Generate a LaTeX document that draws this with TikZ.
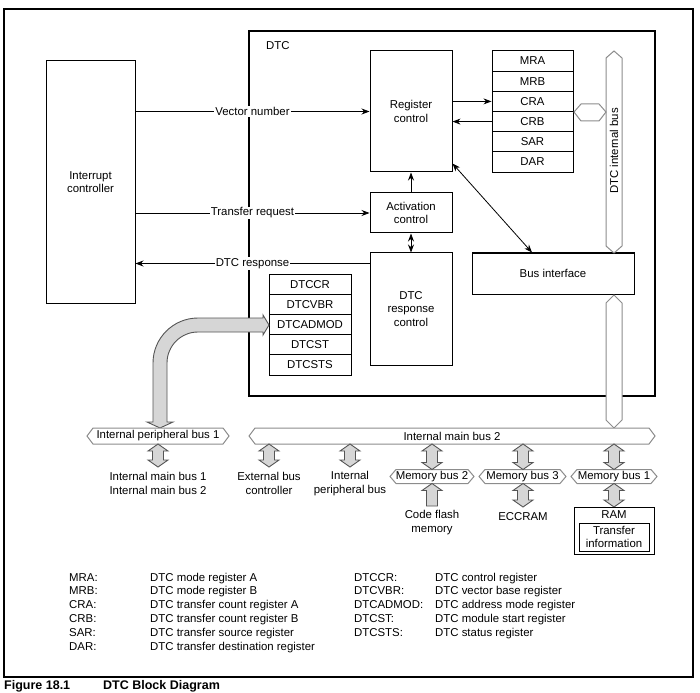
\documentclass[tikz,border=0pt]{standalone}
\usepackage{fontspec}
\setmainfont{Liberation Sans}
\usetikzlibrary{arrows.meta,calc}
\newcommand\fs{\fontsize{11.4}{13.3}\selectfont}
\definecolor{busgray}{HTML}{8C8C8C}
\definecolor{fatfill}{HTML}{D6D6D6}
\definecolor{fatedge}{HTML}{555555}
\tikzset{
  txt/.style={font=\fs, align=center, inner sep=0pt},
  box/.style={draw, line width=1pt, fill=white, font=\fs, align=center, inner sep=0pt},
  reg/.style={box, minimum width=81pt, minimum height=20.17pt},
  reg2/.style={box, minimum width=82pt, minimum height=20.2pt},
  arr/.style={line width=0.8pt, -{Stealth[length=8pt,width=6pt]}},
  dbl/.style={line width=0.8pt, {Stealth[length=8pt,width=6pt]}-{Stealth[length=8pt,width=6pt]}},
  bus/.style={draw=busgray, line width=1pt, fill=white, line join=miter},
  fat/.style={draw=fatedge, fill=fatfill, line width=0.9pt, line join=miter},
  lbl/.style={font=\fs, fill=white, inner sep=1pt},
  leg/.style={font=\fs, anchor=base west, inner sep=0pt},
}
% vertical double fat arrow: x, ytop, ybottom
\newcommand\vdbl[3]{%
  \draw[fat] (#1,#2) -- (#1+10,#2+7) -- (#1+5.5,#2+7) -- (#1+5.5,#3-7) -- (#1+10,#3-7)
    -- (#1,#3) -- (#1-10,#3-7) -- (#1-5.5,#3-7) -- (#1-5.5,#2+7) -- (#1-10,#2+7) -- cycle;}
% horizontal bus hexagon: x1, x2, yc, half height
\newcommand\hbus[4]{%
  \draw[bus] (#1,#3) -- (#1+6,#3-#4) -- (#2-6,#3-#4) -- (#2,#3) -- (#2-6,#3+#4) -- (#1+6,#3+#4) -- cycle;}
\begin{document}
\begin{tikzpicture}[x=1pt,y=-1pt]
\useasboundingbox (0,0) rectangle (700,692);
% outer frame
\draw[line width=1.2pt] (4,9) rectangle (693,677);
% DTC frame
\node[draw, line width=2.2pt, minimum width=406pt, minimum height=365pt, inner sep=0pt] (dtc) at (452,213.5) {};
\node[txt, anchor=west] (dtclbl) at (266,46) {DTC};

% interrupt controller
\node[box, minimum width=89pt, minimum height=242pt] (intc) at (90.5,182) {Interrupt\\controller};

% DTC blocks
\node[box, minimum width=82pt, minimum height=121pt] (regctl) at (411,111.5) {Register\\control};
\node[box, minimum width=82pt, minimum height=40pt] (actctl) at (411,213) {Activation\\control};
\node[box, minimum width=82pt, minimum height=112pt] (respctl) at (411,309) {DTC\\response\\control};
\node[box, minimum width=162pt, minimum height=41pt] (busif) at (553,273.5) {Bus interface};

% register stack
\node[reg] (mra) at (532.5,61.08) {MRA};
\node[reg] (mrb) at (532.5,81.25) {MRB};
\node[reg] (cra) at (532.5,101.42) {CRA};
\node[reg] (crb) at (532.5,121.58) {CRB};
\node[reg] (sar) at (532.5,141.75) {SAR};
\node[reg] (dar) at (532.5,161.92) {DAR};

% DTC control registers
\node[reg2] (dtccr) at (310,284.1) {DTCCR};
\node[reg2] (dtcvbr) at (310,304.3) {DTCVBR};
\node[reg2] (dtcadmod) at (310,324.5) {DTCADMOD};
\node[reg2] (dtcst) at (310,344.7) {DTCST};
\node[reg2] (dtcsts) at (310,364.9) {DTCSTS};

% DTC internal bus (upper)
\draw[bus] (606,58) -- (614,51) -- (622,58) -- (622,246) -- (614,253) -- (606,246) -- cycle;
\node[txt, rotate=90] (ibus) at (614,151) {DTC internal bus};
% small hex between registers and bus
\draw[bus] (574,112) -- (581,104) -- (599,104) -- (606,112) -- (599,121) -- (581,121) -- cycle;
% DTC internal bus (lower)
\draw[bus] (606,303) -- (614,295) -- (622,303) -- (622,420) -- (614,428) -- (606,420) -- cycle;

% connectors
\draw[arr] (intc.east |- regctl.west) -- node[lbl] {Vector number} (regctl.west);
\draw[arr] (intc.east |- actctl.west) -- node[lbl] {Transfer request} (actctl.west);
\coordinate (rs) at ($(respctl.north west)+(0,11)$);
\draw[arr] (rs) -- node[lbl] {DTC response} (intc.east |- rs);
\draw[arr] (regctl.east |- cra.west) -- (cra.west);
\draw[arr] (crb.west) -- (regctl.east |- crb.west);
\draw[arr] (actctl.north) -- (regctl.south);
\draw[dbl] (actctl.south) -- (respctl.north);
\draw[dbl] ([yshift=9pt]regctl.south east) -- ([xshift=-21pt]busif.north);

% curved fat arrow from internal peripheral bus 1 to DTCADMOD
\draw[fat] (269,325) -- (263,315) -- (263,318) -- (198,318)
  arc[start angle=270, end angle=180, radius=45] -- (153,422) -- (147,422) -- (160,428)
  -- (173,422) -- (167,422) -- (167,363) arc[start angle=180, end angle=270, radius=31]
  -- (263,332) -- (263,335) -- cycle;

% buses
\hbus{87}{229}{436}{8}
\node[txt] (ipb1) at (158,436) {Internal peripheral bus 1};
\hbus{249}{655}{436}{8}
\node[txt] (imb2) at (452,436) {Internal main bus 2};
\hbus{390}{474}{476.5}{7}
\node[txt] (mb2) at (432,476.5) {Memory bus 2};
\hbus{479}{566}{476.5}{7}
\node[txt] (mb3) at (522.5,476.5) {Memory bus 3};
\hbus{571}{657}{476.5}{7}
\node[txt] (mb1) at (614,476.5) {Memory bus 1};

% fat double arrows
\vdbl{158}{444}{467}
\vdbl{269}{444}{467}
\vdbl{350}{444}{467}
\vdbl{432}{444}{469.5}
\vdbl{523}{444}{469.5}
\vdbl{614}{444}{469.5}
\vdbl{523}{483.5}{507}
\vdbl{614}{483.5}{507}
% single up arrow (code flash)
\draw[fat] (432,483.5) -- (442,490.5) -- (437.5,490.5) -- (437.5,506) -- (426.5,506) -- (426.5,490.5) -- (422,490.5) -- cycle;

% bottom texts
\node[txt] (imb12) at (158,483.5) {Internal main bus 1\\Internal main bus 2};
\node[txt] (ebc) at (269,483.5) {External bus\\controller};
\node[txt] (ipb) at (350,483.5) {Internal\\peripheral bus};
\node[txt] (cfm) at (432,522.5) {Code flash\\memory};
\node[txt] (ecc) at (523,517) {ECCRAM};
\node[draw, line width=1pt, minimum width=80pt, minimum height=47pt, inner sep=0pt] (ram) at (614,530.5) {};
\node[txt] (ramlbl) at (614,515) {RAM};
\node[draw, line width=1pt, minimum width=70pt, minimum height=28pt, inner sep=0pt, font=\fs, align=center] (tinfo) at (614,537) {Transfer\\information};

% legend
\node[leg] at (69,581) {MRA:};     \node[leg] at (150,581) {DTC mode register A};
\node[leg] at (69,594.8) {MRB:};   \node[leg] at (150,594.8) {DTC mode register B};
\node[leg] at (69,608.6) {CRA:};   \node[leg] at (150,608.6) {DTC transfer count register A};
\node[leg] at (69,622.4) {CRB:};   \node[leg] at (150,622.4) {DTC transfer count register B};
\node[leg] at (69,636.2) {SAR:};   \node[leg] at (150,636.2) {DTC transfer source register};
\node[leg] at (69,650) {DAR:};     \node[leg] at (150,650) {DTC transfer destination register};
\node[leg] at (354,581) {DTCCR:};    \node[leg] at (435,581) {DTC control register};
\node[leg] at (354,594.8) {DTCVBR:}; \node[leg] at (435,594.8) {DTC vector base register};
\node[leg] at (354,608.6) {DTCADMOD:}; \node[leg] at (435,608.6) {DTC address mode register};
\node[leg] at (354,622.4) {DTCST:};  \node[leg] at (435,622.4) {DTC module start register};
\node[leg] at (354,636.2) {DTCSTS:}; \node[leg] at (435,636.2) {DTC status register};

% caption
\node[anchor=base west, inner sep=0pt, font=\bfseries\fontsize{12.5}{14}\selectfont] (figno) at (4,689) {Figure 18.1};
\node[anchor=base west, inner sep=0pt, font=\bfseries\fontsize{12.5}{14}\selectfont] (figttl) at (103,689) {DTC Block Diagram};
\end{tikzpicture}
\end{document}
